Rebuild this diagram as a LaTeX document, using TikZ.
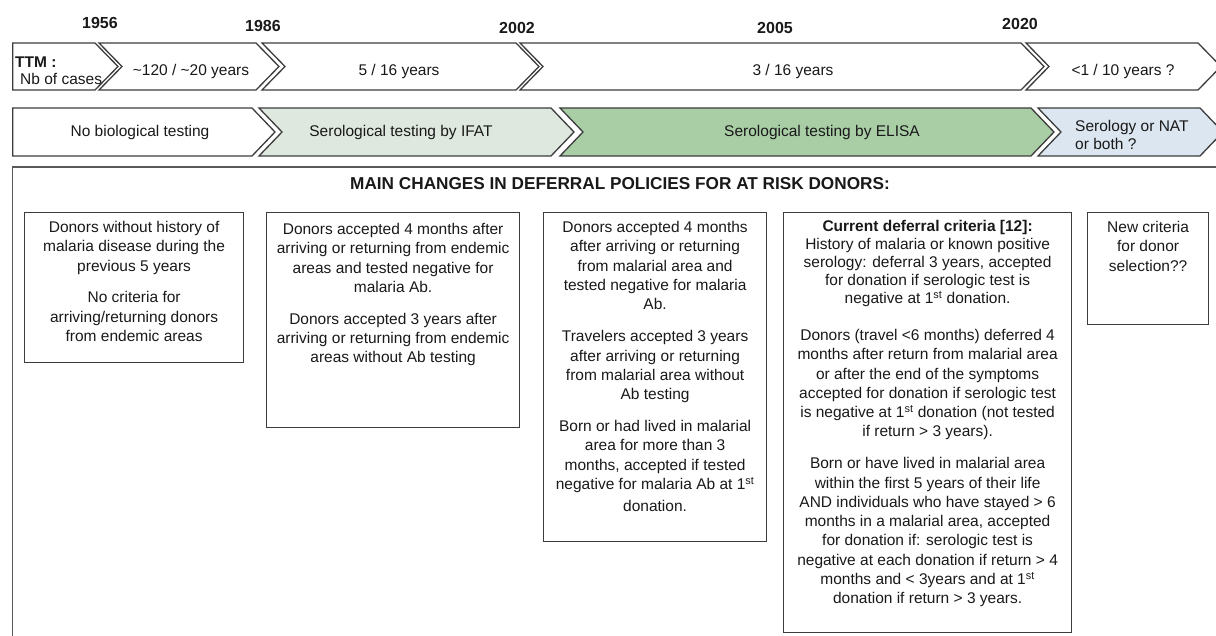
\documentclass[tikz,border=0pt]{standalone}
\usepackage{fontspec}
\setmainfont{Liberation Sans}
\definecolor{lineGray}{HTML}{3C3C3C}
\definecolor{ifatGreen}{HTML}{DEE8DE}
\definecolor{elisaGreen}{HTML}{A9CEA6}
\definecolor{natBlue}{HTML}{DCE6F0}
\begin{document}
\begin{tikzpicture}[x=1pt,y=-1pt,
  every node/.style={text=black!90,font=\fontsize{15.5}{19.3}\selectfont,inner sep=0pt},
  chev/.style={draw=lineGray,line width=1.3pt,line join=miter,fill=white},
  yearlabel/.style={font=\bfseries\fontsize{16}{19}\selectfont},
  critbox/.style={draw=lineGray,line width=1.2pt,anchor=north west},
  crittext/.style={anchor=north,align=center}]
  \useasboundingbox (0,0) rectangle (1216,636);
  \clip (0,0) rectangle (1216,636);
  \node[yearlabel] (y1956) at (100,23) {1956};
  \node[yearlabel] (y1986) at (263,26) {1986};
  \node[yearlabel] (y2002) at (517,28) {2002};
  \node[yearlabel] (y2005) at (775,28) {2005};
  \node[yearlabel] (y2020) at (1020,24) {2020};
  \draw[chev] (12.7,43) -- (95,43) -- (118,66.5) -- (95,90) -- (12.7,90) -- cycle;
  \draw[chev] (99,43) -- (256,43) -- (279,66.5) -- (256,90) -- (99,90) -- (122,66.5) -- cycle;
  \draw[chev] (262,43) -- (516,43) -- (539,66.5) -- (516,90) -- (262,90) -- (285,66.5) -- cycle;
  \draw[chev] (520,43) -- (1021,43) -- (1044,66.5) -- (1021,90) -- (520,90) -- (543,66.5) -- cycle;
  \draw[chev] (1026,43) -- (1198,43) -- (1221,66.5) -- (1198,90) -- (1026,90) -- (1049,66.5) -- cycle;
  \node[anchor=base west,font=\bfseries\fontsize{15.5}{19.3}\selectfont] (ttm) at (15,67.5) {TTM :};
  \node[anchor=base west] (nbcases) at (20,84.5) {Nb of cases};
  \node (casesA) at (191,71) {\textasciitilde{}120 / \textasciitilde{}20 years};
  \node (casesB) at (399,71) {5 / 16 years};
  \node (casesC) at (793,71) {3 / 16 years};
  \node (casesD) at (1123,71) {<1 / 10 years ?};
  \draw[chev] (12.7,108) -- (252,108) -- (275,132) -- (252,156) -- (12.7,156) -- cycle;
  \draw[chev,fill=ifatGreen] (259,108) -- (551,108) -- (574,132) -- (551,156) -- (259,156) -- (282,132) -- cycle;
  \draw[chev,fill=elisaGreen] (560,108) -- (1031,108) -- (1054,132) -- (1031,156) -- (560,156) -- (583,132) -- cycle;
  \draw[chev,fill=natBlue] (1038,108) -- (1200,108) -- (1223,132) -- (1200,156) -- (1038,156) -- (1061,132) -- cycle;
  \node (testNone) at (140,132) {No biological testing};
  \node (testIfat) at (401,132) {Serological testing by IFAT};
  \node (testElisa) at (822,132) {Serological testing by ELISA};
  \node[anchor=west,align=left,font=\fontsize{15.5}{18}\selectfont] (testNat) at (1075,135) {Serology or NAT\\or both ?};
  \draw[draw=lineGray!85,line width=1.5pt] (12.7,640) -- (12.7,167) -- (1220,167);
  \node[font=\bfseries\fontsize{17.2}{19.3}\selectfont] (header) at (620,184) {MAIN CHANGES IN DEFERRAL POLICIES FOR AT RISK DONORS:};
  \node[critbox,minimum width=219,minimum height=150] (crit1) at (24,212) {};
  \node[critbox,minimum width=253,minimum height=215] (crit2) at (266,212) {};
  \node[critbox,minimum width=223,minimum height=329] (crit3) at (543,212) {};
  \node[critbox,minimum width=288,minimum height=420] (crit4) at (783,212) {};
  \node[critbox,minimum width=121,minimum height=112] (crit5) at (1087,212) {};
  \node[crittext] (crit1text) at ([yshift=-9pt]crit1.north) {Donors without history of\\malaria disease during the\\previous 5 years\\[12.5pt]
    No criteria for\\arriving/returning donors\\from endemic areas};
  \node[crittext] (crit2text) at ([yshift=-11pt]crit2.north) {Donors accepted 4 months after\\arriving or returning from endemic\\areas and tested negative for\\malaria Ab.\\[12.5pt]
    Donors accepted 3 years after\\arriving or returning from endemic\\areas without Ab testing};
  \node[crittext] (crit3text) at ([yshift=-9pt]crit3.north) {Donors accepted 4 months\\after arriving or returning\\from malarial area and\\tested negative for malaria\\Ab.\\[13pt]
    Travelers accepted 3 years\\after arriving or returning\\from malarial area without\\Ab testing\\[12.5pt]
    Born or had lived in malarial\\area for more than 3\\months, accepted if tested\\negative for malaria Ab at 1\textsuperscript{st}\\[2.7pt]
    donation.};
  \node[crittext] (crit4text) at ([yshift=-8pt]crit4.north) {\textbf{Current deferral criteria [12]:}\\[-1.3pt]History of malaria or known positive\\[-1.3pt]serology: deferral 3 years, accepted\\[-1.3pt]for donation if serologic test is\\[-1.3pt]negative at 1\textsuperscript{st} donation.\\[17.7pt]
    Donors (travel <6 months) deferred 4\\months after return from malarial area\\or after the end of the symptoms\\accepted for donation if serologic test\\is negative at 1\textsuperscript{st} donation (not tested\\if return > 3 years).\\[12.5pt]
    Born or have lived in malarial area\\within the first 5 years of their life\\AND individuals who have stayed > 6\\months in a malarial area, accepted\\for donation if: serologic test is\\negative at each donation if return > 4\\months and < 3years and at 1\textsuperscript{st}\\donation if return > 3 years.};
  \node[crittext] (crit5text) at ([yshift=-9pt]crit5.north) {New criteria\\for donor\\selection??};
\end{tikzpicture}
\end{document}
